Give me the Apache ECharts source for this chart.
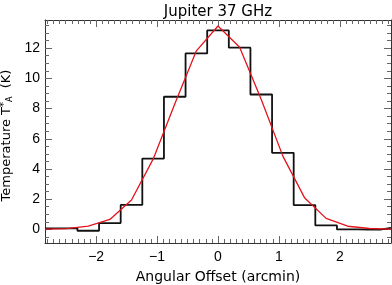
<!DOCTYPE html>
<html>
<head>
<meta charset="utf-8">
<script src="https://cdn.jsdelivr.net/npm/echarts@6/dist/echarts.min.js"></script>
<style>
  html, body { margin: 0; padding: 0; background: #fff; }
  #chart-container { width: 392px; height: 285px; }
</style>
</head>
<body>
<div id="chart-container"></div>
<script>
// bin centres (arcmin) and the two profiles
const offsets = [-2.84, -2.485, -2.13, -1.775, -1.42, -1.065, -0.71, -0.355, 0,
                 0.355, 0.71, 1.065, 1.42, 1.775, 2.13, 2.485, 2.84];
const measured = [0.07, 0.07, -0.09, 0.42, 1.62, 4.69, 8.78, 11.65, 13.17,
                  12.03, 8.93, 5.07, 1.61, 0.26, 0.0, -0.02, 0.1];
const model = [0.02, 0.05, 0.22, 0.66, 1.95, 4.65, 8.3, 11.82, 13.46,
               12.06, 8.6, 4.85, 2.1, 0.73, 0.21, 0.06, 0.02];

const xTicks = [-2, -1, 0, 1, 2];
const yTicks = [0, 2, 4, 6, 8, 10, 12];
const xRange = [-2.84, 2.84];
const yRange = [-0.9, 13.86];

// minor ticks: every 0.1 on x, every 0.5 on y
let xMinor = [];
for (let i = -28; i <= 28; i++) if (i % 10 !== 0) xMinor.push(i / 10);
let yMinor = [];
for (let i = -1; i <= 27; i++) if (i % 4 !== 0) yMinor.push(i / 2);

const frameColor = '#333';
const tickColor = '#666';
const minus = v => String(v).replace('-', '\u2212');

const axis = (pos, range, ticks, len, line, extra) => Object.assign({
	type: 'value',
	position: pos,
	min: range[0],
	max: range[1],
	splitLine: { show: false },
	axisLine: { show: line, onZero: false, lineStyle: { color: frameColor, width: 1 } },
	axisTick: { show: true, inside: true, length: len, customValues: ticks,
		lineStyle: { color: tickColor, width: 1 } },
	axisLabel: { show: false }
}, extra || {});

const labelStyle = { color: '#000', fontFamily: 'Liberation Sans', fontSize: 14 };

const myChart = echarts.init(document.getElementById('chart-container'));
const option = {
	animation: false,
	title: {
		text: 'Jupiter 37 GHz',
		left: 213,
		top: 0,
		textAlign: 'center',
		textStyle: { fontFamily: 'DejaVu Sans', fontSize: 15, fontWeight: 'normal', color: '#000' }
	},
	grid: { left: 45, right: 1, top: 20, bottom: 42, outerBoundsMode: 'none' },
	xAxis: [
		axis('bottom', xRange, xTicks, 7, true, {
			name: 'Angular Offset (arcmin)',
			nameLocation: 'middle',
			nameGap: 27,
			nameTextStyle: { fontFamily: 'DejaVu Sans', fontSize: 14, color: '#000' },
			axisLabel: Object.assign({ show: true, margin: 7, customValues: xTicks, formatter: minus }, labelStyle)
		}),
		axis('top', xRange, xTicks, 7, true),
		axis('bottom', xRange, xMinor, 4, false),
		axis('top', xRange, xMinor, 4, false)
	],
	yAxis: [
		axis('left', yRange, yTicks, 7, true, {
			name: 'Temperature T{sup|*}{sub|A}  (K)',
			nameLocation: 'middle',
			nameGap: 18,
			nameTextStyle: {
				fontFamily: 'DejaVu Sans', fontSize: 13, color: '#000', padding: [0, 8, 0, 0],
				rich: {
					sup: { fontFamily: 'DejaVu Sans', fontSize: 10, color: '#000', padding: [0, 0, 6, 0] },
					sub: { fontFamily: 'DejaVu Sans', fontSize: 8, color: '#000', padding: [5, 0, 0, 0] }
				}
			},
			axisLabel: Object.assign({ show: true, margin: 5, customValues: yTicks }, labelStyle)
		}),
		axis('right', yRange, yTicks, 7, true),
		axis('left', yRange, yMinor, 4, false),
		axis('right', yRange, yMinor, 4, false)
	],
	series: [
		{
			name: 'Data',
			type: 'line',
			step: 'middle',
			xAxisIndex: 0,
			yAxisIndex: 0,
			data: offsets.map((x, i) => [x, measured[i]]),
			symbol: 'none',
			lineStyle: { color: '#111', width: 1.8 }
		},
		{
			name: 'Model',
			type: 'line',
			xAxisIndex: 0,
			yAxisIndex: 0,
			data: offsets.map((x, i) => [x, model[i]]),
			symbol: 'none',
			lineStyle: { color: '#e3141c', width: 1.3 }
		}
	]
};
myChart.setOption(option);
</script>
</body>
</html>
